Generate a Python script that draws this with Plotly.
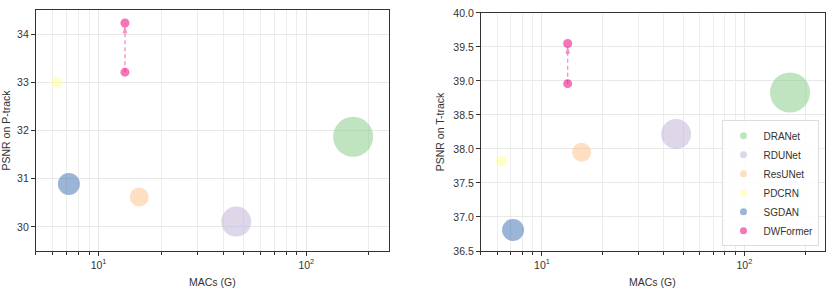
import plotly.graph_objects as go

methods = ["DRANet", "RDUNet", "ResUNet", "PDCRN", "SGDAN"]
macs = [168, 46, 15.7, 6.3, 7.2]
psnr_p = [31.87, 30.11, 30.62, 33.0, 30.89]
psnr_t = [38.83, 38.22, 37.95, 37.82, 36.81]
bubble = [40, 30, 19, 11, 22]
colors = ["rgba(127,201,127,0.5)", "rgba(190,174,212,0.5)", "rgba(253,192,134,0.5)",
          "rgba(255,255,153,0.55)", "rgba(56,108,176,0.5)"]

dw_name = "DWFormer"
dw_macs = 13.4
dw_p = [33.21, 34.23]
dw_t = [38.96, 39.55]
dw_color = "rgba(240,2,127,0.55)"

xticks = [10, 100]
xticktext = ["10<sup>1</sup>", "10<sup>2</sup>"]
xminor = [5, 6, 7, 8, 9, 20, 30, 40, 50, 60, 70, 80, 90, 200]
yticks_p = [30, 31, 32, 33, 34]
yticks_t = [36.5, 37.0, 37.5, 38.0, 38.5, 39.0, 39.5, 40.0]

fig = go.Figure()

for panel, (vals, dwv, xa, ya) in enumerate([(psnr_p, dw_p, "x", "y"), (psnr_t, dw_t, "x2", "y2")]):
    for i, m in enumerate(methods):
        fig.add_trace(go.Scatter(
            x=[macs[i]], y=[vals[i]], mode="markers", name=m,
            marker=dict(size=bubble[i], color=colors[i], line=dict(width=0)),
            xaxis=xa, yaxis=ya, showlegend=False))
    fig.add_trace(go.Scatter(
        x=[dw_macs, dw_macs], y=dwv, mode="lines+markers",
        line=dict(color="rgba(240,2,127,0.45)", width=1.3, dash="4px,3px"),
        marker=dict(symbol="arrow", angleref="previous", size=[0, 6], standoff=4,
                    color="rgba(240,2,127,0.55)"),
        xaxis=xa, yaxis=ya, showlegend=False, hoverinfo="skip"))
    fig.add_trace(go.Scatter(
        x=[dw_macs, dw_macs], y=dwv, mode="markers", name=dw_name,
        marker=dict(size=9, color=dw_color, line=dict(width=0)),
        xaxis=xa, yaxis=ya, showlegend=False))

# legend entries (right panel)
for i, m in enumerate(methods + [dw_name]):
    c = colors[i] if i < len(methods) else dw_color
    fig.add_trace(go.Scatter(
        x=[None], y=[None], mode="markers", name=m,
        marker=dict(size=7, color=c), xaxis="x2", yaxis="y2", showlegend=True))

font = dict(family="Liberation Sans, Arial, sans-serif", size=11, color="#333")
axcommon = dict(showline=True, linecolor="#333", linewidth=1.2, mirror=True,
                gridcolor="#e8e8e8", gridwidth=1, zeroline=False,
                ticks="outside", ticklen=4, tickcolor="#333",
                tickfont=dict(size=10.5, color="#333"))

xax = dict(type="log", range=[0.699, 2.398], tickvals=xticks, ticktext=xticktext,
           minor=dict(tickvals=xminor, ticks="outside", ticklen=2.5, tickcolor="#333",
                      showgrid=True, gridcolor="#ededed"),
           **axcommon)

fig.update_layout(
    width=831, height=288,
    margin=dict(l=36, r=6, t=4, b=37),
    paper_bgcolor="white", plot_bgcolor="white",
    font=font,
    xaxis=dict(domain=[0, 0.4474], anchor="y", **xax),
    xaxis2=dict(domain=[0.564, 1.0], anchor="y2", **xax),
    yaxis=dict(domain=[0, 1], anchor="x", range=[29.5, 34.5], tickvals=yticks_p,
               title=dict(text="PSNR on P-track", font=dict(size=10.5, color="#333"), standoff=6),
               **axcommon),
    yaxis2=dict(domain=[0, 0.988], anchor="x2", range=[36.5, 40.0], tickvals=yticks_t,
                tickformat=".1f",
                title=dict(text="PSNR on T-track", font=dict(size=10.5, color="#333"), standoff=6),
                **axcommon),
    legend=dict(x=0.993, y=0.02, xanchor="right", yanchor="bottom",
                bgcolor="rgba(255,255,255,0.85)", bordercolor="#dddddd", borderwidth=1,
                font=dict(size=10, color="#333"), itemsizing="trace",
                tracegroupgap=0, traceorder="normal", itemwidth=30),
    showlegend=True,
    annotations=[
        dict(text="MACs (G)", xref="x domain", yref="paper", x=0.5, y=0, yshift=-23,
             xanchor="center", yanchor="top", showarrow=False,
             font=dict(size=10.5, color="#333")),
        dict(text="MACs (G)", xref="x2 domain", yref="paper", x=0.5, y=0, yshift=-23,
             xanchor="center", yanchor="top", showarrow=False,
             font=dict(size=10.5, color="#333")),
    ],
)

fig.write_html("out.html", config={"displayModeBar": False},
               post_script="document.body.style.margin='0';")
